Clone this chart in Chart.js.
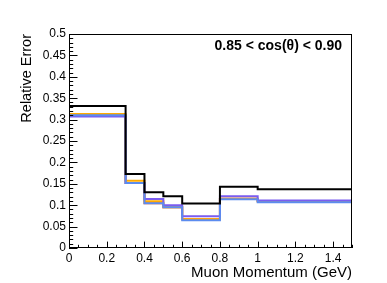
<!DOCTYPE html>
<html>
<head>
<meta charset="utf-8">
<script src="https://cdn.jsdelivr.net/npm/chart.js@4.4.1/dist/chart.umd.min.js"></script>
<style>
  body { margin: 0; background: #fff; }
  #wrap { width: 387px; height: 283px; }
</style>
</head>
<body>
<div id="wrap"><canvas id="errChart" width="387" height="283"></canvas></div>
<script>
// bin edges (GeV) and relative error per bin
const binEdges = [0, 0.3, 0.4, 0.5, 0.6, 0.8, 1.0, 1.5];
const errBlack = [0.332, 0.173, 0.130, 0.121, 0.104, 0.143, 0.137];
const errPurple = [0.307, 0.152, 0.1145, 0.0998, 0.074, 0.121, 0.111];
const errBlue = [0.310, 0.152, 0.1045, 0.095, 0.065, 0.114, 0.107];
const errLightOrange = [0.313, 0.157, 0.109, 0.095, 0.067, 0.115, 0.109];
const errOrange = [0.310, 0.152, 0.1045, 0.095, 0.067, 0.115, 0.109];
const xTickLabels = [0, 0.2, 0.4, 0.6, 0.8, 1.0, 1.2, 1.4];
const yTickLabels = [0, 0.05, 0.1, 0.15, 0.2, 0.25, 0.3, 0.35, 0.4, 0.45, 0.5];

const FONT = "'Liberation Sans', Arial, Helvetica, sans-serif";

function histPoints(vals) {
  const pts = vals.map((v, i) => ({ x: binEdges[i], y: v }));
  pts.push({ x: binEdges[binEdges.length - 1], y: vals[vals.length - 1] });
  return pts;
}

function histSet(vals, color) {
  return {
    data: histPoints(vals),
    borderColor: color,
    borderWidth: 2,
    stepped: "before",
    pointRadius: 0,
    fill: false,
  };
}

// ROOT-style inward ticks + frame + label
const rootFrame = {
  id: "rootFrame",
  afterDatasetsDraw(chart) {
    const { ctx, chartArea: a, scales } = chart;
    ctx.save();
    ctx.strokeStyle = "#000";
    ctx.lineWidth = 1;
    ctx.beginPath();
    // y ticks: major 0.05, minor 0.01
    for (let i = 0; i <= 50; i++) {
      const y = Math.round(scales.y.getPixelForValue(i * 0.01)) + 0.5;
      const len = i % 5 === 0 ? 8.5 : 4.2;
      ctx.moveTo(a.left, y);
      ctx.lineTo(a.left + len, y);
    }
    // x ticks: major 0.2, minor 0.05
    for (let i = 0; i <= 30; i++) {
      const v = i * 0.05;
      const x = Math.round(scales.x.getPixelForValue(v)) + 0.5;
      const len = i % 4 === 0 ? 6.4 : 3.2;
      ctx.moveTo(x, a.bottom);
      ctx.lineTo(x, a.bottom - len);
    }
    ctx.stroke();
    ctx.strokeRect(a.left + 0.5, a.top + 0.5, a.right - a.left - 1, a.bottom - a.top - 1);

    ctx.fillStyle = "#000";
    ctx.font = "bold 14px " + FONT;
    ctx.textAlign = "right";
    ctx.textBaseline = "middle";
    ctx.fillText("0.85 < cos(\u03b8) < 0.90", a.right - 10, a.top + 12);
    ctx.restore();
  },
};

document.addEventListener("DOMContentLoaded", function () {
  const ctx = document.getElementById("errChart").getContext("2d");
  new Chart(ctx, {
    type: "line",
    data: {
      datasets: [
        histSet(errBlack, "#000000"),
        histSet(errBlue, "#5b8cf0"),
        histSet(errPurple, "#7b5cf0"),
        histSet(errLightOrange, "#ffaa00"),
        histSet(errOrange, "#ff6200"),
      ],
    },
    options: {
      responsive: false,
      animation: false,
      layout: { padding: { top: 34, right: 35, left: 0, bottom: 0 } },
      plugins: { legend: { display: false }, tooltip: { enabled: false } },
      scales: {
        x: {
          type: "linear",
          min: 0,
          max: 1.5,
          grid: { display: false, drawTicks: false },
          border: { display: false },
          afterFit(s) { s.height = 35; },
          afterBuildTicks(s) { s.ticks = xTickLabels.map((v) => ({ value: v })); },
          ticks: {
            padding: 3,
            color: "#000",
            font: { family: FONT, size: 12 },
            callback: (v) => String(Math.round(v * 10) / 10),
          },
          title: {
            display: true,
            text: "Muon Momentum (GeV)",
            align: "end",
            color: "#000",
            font: { family: FONT, size: 15 },
            padding: { top: 0, bottom: 1 },
          },
        },
        y: {
          type: "linear",
          min: 0,
          max: 0.5,
          grid: { display: false, drawTicks: false },
          border: { display: false },
          afterFit(s) { s.width = 69; },
          afterBuildTicks(s) { s.ticks = yTickLabels.map((v) => ({ value: v })); },
          ticks: {
            padding: 3,
            color: "#000",
            font: { family: FONT, size: 12 },
            callback: (v) => String(Math.round(v * 100) / 100),
          },
          title: {
            display: true,
            text: "Relative Error",
            align: "end",
            color: "#000",
            font: { family: FONT, size: 14.5 },
            padding: { top: 18.3, bottom: 0 },
          },
        },
      },
    },
    plugins: [rootFrame],
  });
});
</script>
</body>
</html>
